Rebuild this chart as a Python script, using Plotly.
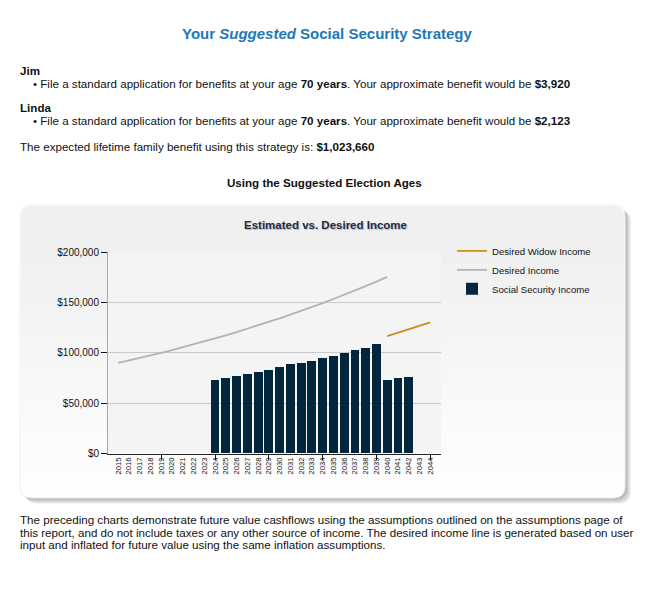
import plotly.graph_objects as go

W, H = 657, 601

# ---------------- data ----------------
year_labels = [str(y) for y in range(2015, 2045)]
years = list(range(2015, 2045))

desired_years = list(range(2015, 2041))
desired_income = [90000, 92400, 94900, 97500, 100100, 102800, 105600, 108500,
                  111400, 114400, 117500, 120700, 124000, 127300, 130800,
                  134300, 138000, 141700, 145600, 149500, 153600, 157700,
                  162000, 166400, 170900, 175600]

widow_years = list(range(2040, 2045))
widow_income = [116600, 120000, 123400, 126900, 130400]

ss_years = list(range(2024, 2043))
ss_income = [72700, 74400, 76600, 78600, 81200, 82500, 85400, 88300, 89300,
             92200, 95100, 97100, 100000, 102900, 104900, 108800,
             72700, 74400, 75700]

y_ticks = [0, 50000, 100000, 150000, 200000]
y_tick_labels = ["$0", "$50,000", "$100,000", "$150,000", "$200,000"]
major_x_ticks = [2014, 2019, 2024, 2029, 2034, 2039, 2044]

footer_lines = [
    "The preceding charts demonstrate future value cashflows using the assumptions "
    "outlined on the assumptions page of",
    "this report, and do not include taxes or any other source of income. The desired "
    "income line is generated based on user",
    "input and inflated for future value using the same inflation assumptions.",
]

# ---------------- helpers ----------------
def px(x):
    return x / W

def py(y):
    return 1 - y / H

def rrect(x0, y0, x1, y1, r, square_bottom=False):
    """rounded rectangle path in paper coordinates (pixel inputs)"""
    X = px
    Y = py
    if square_bottom:
        return (f"M {X(x0)},{Y(y1)} L {X(x0)},{Y(y0 + r)} "
                f"Q {X(x0)},{Y(y0)} {X(x0 + r)},{Y(y0)} "
                f"L {X(x1 - r)},{Y(y0)} Q {X(x1)},{Y(y0)} {X(x1)},{Y(y0 + r)} "
                f"L {X(x1)},{Y(y1)} Z")
    return (f"M {X(x0 + r)},{Y(y0)} L {X(x1 - r)},{Y(y0)} "
            f"Q {X(x1)},{Y(y0)} {X(x1)},{Y(y0 + r)} "
            f"L {X(x1)},{Y(y1 - r)} Q {X(x1)},{Y(y1)} {X(x1 - r)},{Y(y1)} "
            f"L {X(x0 + r)},{Y(y1)} Q {X(x0)},{Y(y1)} {X(x0)},{Y(y1 - r)} "
            f"L {X(x0)},{Y(y0 + r)} Q {X(x0)},{Y(y0)} {X(x0 + r)},{Y(y0)} Z")

FONT = "Liberation Sans, Arial, sans-serif"
BODY = 11.6

fig = go.Figure()

fig.add_trace(go.Scatter(
    x=widow_years, y=widow_income, mode="lines", name="Desired Widow Income",
    line=dict(color="#c8901c", width=1.8), hoverinfo="skip"))
fig.add_trace(go.Scatter(
    x=desired_years, y=desired_income, mode="lines", name="Desired Income",
    line=dict(color="#b9b2aa", width=1.8), hoverinfo="skip"))
fig.add_trace(go.Bar(
    x=ss_years, y=ss_income, name="Social Security Income",
    marker=dict(color="#03263f", line=dict(width=0)), width=0.82,
    hoverinfo="skip"))

# ---------------- card (shadow, body, gradient) ----------------
cx0, cy0, cx1, cy1, cr = 20, 203, 625, 502, 12
shapes = []
for k in range(1, 7):
    shapes.append(dict(type="path", xref="paper", yref="paper", layer="below",
                       path=rrect(cx0 + k, cy0 + k, cx1 + k, cy1 + k, cr),
                       fillcolor="rgba(60,60,60,0.07)", line=dict(width=0)))
shapes.append(dict(type="path", xref="paper", yref="paper", layer="below",
                   path=rrect(cx0, cy0, cx1, cy1, cr),
                   fillcolor="#fefefe", line=dict(color="#eeeeee", width=1)))
n_bands = 14
for i in range(n_bands):
    yb = cy1 - cr - 4 - i * (cy1 - cy0 - 60) / n_bands
    shapes.append(dict(type="path", xref="paper", yref="paper", layer="below",
                       path=rrect(cx0 + 0.5, cy0 + 0.5, cx1 - 0.5, yb, cr, square_bottom=True),
                       fillcolor="rgba(0,0,0,0.0038)", line=dict(width=0)))
# plot area background
shapes.append(dict(type="rect", xref="x domain", yref="y domain", layer="below",
                   x0=0, x1=1, y0=0, y1=1, fillcolor="#f4f4f4", line=dict(width=0)))

# ---------------- text ----------------
ann = []
def text(x, y, t, size=BODY, color="#111111", anchor="left", weight="normal", **kw):
    ann.append(dict(x=px(x), y=py(y), xref="paper", yref="paper", text=t,
                    showarrow=False, xanchor=anchor, yanchor="middle",
                    font=dict(family=FONT, size=size, color=color, weight=weight, **kw),
                    align="left"))

text(327, 28, "Your <i>Suggested</i> Social Security Strategy", size=15,
     color="#1b79b6", anchor="center", weight="bold")
text(18, 66, "<b>Jim</b>")
text(31, 79, "\u2022 File a standard application for benefits at your age <b>70 years</b>. "
             "Your approximate benefit would be <b>$3,920</b>")
text(18, 104, "<b>Linda</b>")
text(31, 117, "\u2022 File a standard application for benefits at your age <b>70 years</b>. "
              "Your approximate benefit would be <b>$2,123</b>")
text(18, 143, "The expected lifetime family benefit using this strategy is: <b>$1,023,660</b>")
text(324, 180, "<b>Using the Suggested Election Ages</b>", anchor="center")
text(325, 223, "Estimated vs. Desired Income", size=11.5, color="#1f2b4a",
     anchor="center", weight="bold", shadow="1px 1px 1px #b8b8b8")
for i, line in enumerate(footer_lines):
    text(18, 524 + 12.8 * i, line)

# ---------------- layout ----------------
fig.update_layout(
    width=W, height=H, margin=dict(l=0, r=0, t=0, b=0),
    paper_bgcolor="white", plot_bgcolor="rgba(0,0,0,0)",
    shapes=shapes, annotations=ann, bargap=0,
    xaxis=dict(domain=[px(108), px(441)], range=[2014.05, 2045.0],
               tickmode="array", tickvals=years, ticktext=year_labels,
               tickangle=-90, ticks="", showgrid=False, zeroline=False,
               showline=True, linecolor="#222222", linewidth=1,
               tickfont=dict(family=FONT, size=7.6, color="#111111"),
               minor=dict(tickmode="array", tickvals=major_x_ticks,
                          ticks="outside", ticklen=5, tickcolor="#111111", tickwidth=1,
                          showgrid=False),
               fixedrange=True),
    yaxis=dict(domain=[py(456.7), py(251.3)], range=[0, 200000],
               tickmode="array", tickvals=y_ticks, ticktext=y_tick_labels,
               ticks="outside", ticklen=6, tickcolor="#111111",
               showgrid=True, gridcolor="#c9c9c9", gridwidth=1,
               zeroline=False, showline=True, linecolor="#a9a9a9", linewidth=1,
               tickfont=dict(family=FONT, size=10, color="#111111"),
               fixedrange=True),
    legend=dict(x=px(452), y=py(235), xanchor="left", yanchor="top",
                bgcolor="rgba(0,0,0,0)", itemwidth=30, traceorder="normal",
                font=dict(family=FONT, size=9.6, color="#111111"),
                tracegroupgap=0),
    showlegend=True,
)

fig.write_html("out.html", config={"displayModeBar": False},
               post_script="document.body.style.margin='0';document.body.style.overflow='hidden';")
